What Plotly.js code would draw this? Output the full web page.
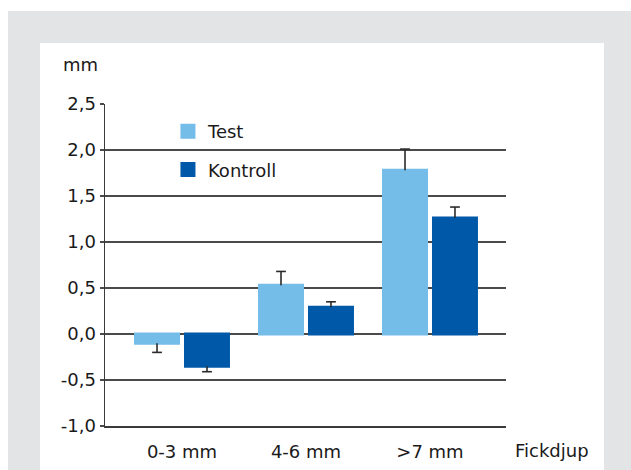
<!DOCTYPE html>
<html><head><meta charset="utf-8">
<script src="https://cdn.plot.ly/plotly-3.0.1.min.js"></script>
<style>
html,body{margin:0;padding:0;background:#fff;width:631px;height:470px;overflow:hidden}
#outer{position:absolute;left:8px;top:11px;width:623px;height:459px;background:#e3e4e6}
#chart{position:absolute;left:40px;top:43px;width:564px;height:427px;background:#fff}
</style></head>
<body><div id="outer"></div><div id="chart"></div>
<script>
var categories = ['0-3 mm', '4-6 mm', '>7 mm'];
var seriesNames = ['Test', 'Kontroll'];
var testValues = [-0.10, 0.53, 1.78];
var testErrPlus = [0, 0.15, 0.23];
var testErrMinus = [0.10, 0, 0];
var kontrollValues = [-0.35, 0.29, 1.26];
var kontrollErrPlus = [0, 0.06, 0.12];
var kontrollErrMinus = [0.06, 0, 0];
var yTicks = [-1.0, -0.5, 0.0, 0.5, 1.0, 1.5, 2.0, 2.5];
var yTickText = yTicks.map(function(v){ return v.toFixed(1).replace('.', ','); });

var font = '"DejaVu Sans", sans-serif';
var textColor = '#1a1a1a';
var errColor = '#2b2b2b';
var errStyle = {type:'data', symmetric:false, color:errColor, thickness:1.6, width:0};

function capEnds(vals, plus, minus){
  return vals.map(function(v, i){ return v + plus[i] - minus[i]; });
}

var traces = [
  {type:'bar', name:seriesNames[0], x:categories, y:testValues, offsetgroup:'t', alignmentgroup:'g',
   marker:{color:'#74bde8', line:{color:'#74bde8', width:3}},
   legendgroup:'a', hoverinfo:'skip',
   error_y:Object.assign({array:testErrPlus, arrayminus:testErrMinus}, errStyle)},
  {type:'bar', name:seriesNames[1], x:categories, y:kontrollValues, offsetgroup:'k', alignmentgroup:'g',
   marker:{color:'#0059a8', line:{color:'#0059a8', width:3}},
   legendgroup:'b', hoverinfo:'skip',
   error_y:Object.assign({array:kontrollErrPlus, arrayminus:kontrollErrMinus}, errStyle)},
  {type:'scatter', mode:'markers', x:categories, y:capEnds(testValues, testErrPlus, testErrMinus),
   offsetgroup:'t', alignmentgroup:'g', showlegend:false, hoverinfo:'skip', cliponaxis:false,
   marker:{symbol:'line-ew', size:7, color:errColor, line:{color:errColor, width:1.6}}},
  {type:'scatter', mode:'markers', x:categories, y:capEnds(kontrollValues, kontrollErrPlus, kontrollErrMinus),
   offsetgroup:'k', alignmentgroup:'g', showlegend:false, hoverinfo:'skip', cliponaxis:false,
   marker:{symbol:'line-ew', size:7, color:errColor, line:{color:errColor, width:1.6}}}
];

var layout = {
  width:564, height:427,
  margin:{l:65, r:98, t:61, b:44},
  paper_bgcolor:'#ffffff', plot_bgcolor:'#ffffff',
  font:{family:font, size:18, color:textColor},
  barmode:'group', bargap:0.194, bargroupgap:0.14,
  scattermode:'group', scattergap:0.194,
  showlegend:true,
  legend:{x:0.157, y:0.972, xanchor:'left', yanchor:'top', bgcolor:'rgba(0,0,0,0)',
          font:{family:font, size:18, color:textColor}, traceorder:'grouped', tracegroupgap:12,
          itemclick:false},
  xaxis:{type:'category', range:[-0.621, 2.613], showgrid:false, zeroline:false,
         showline:true, linecolor:'#3a3a3a', linewidth:1.5,
         ticks:'outside', ticklen:9, tickcolor:'rgba(0,0,0,0)', fixedrange:true},
  yaxis:{range:[-1, 2.5], tickmode:'array', tickvals:yTicks, ticktext:yTickText, showgrid:true,
         gridcolor:'#4a4a4a', gridwidth:1.5, zeroline:true, zerolinecolor:'#4a4a4a', zerolinewidth:1.5,
         showline:true, linecolor:'#3a3a3a', linewidth:1.5,
         ticks:'outside', ticklen:4, tickwidth:1.5, tickcolor:'#4a4a4a', fixedrange:true},
  annotations:[
    {xref:'paper', yref:'paper', x:-0.012, y:1.124, xanchor:'right', yanchor:'middle',
     text:'mm', showarrow:false, font:{family:font, size:18, color:textColor}},
    {xref:'paper', yref:'paper', x:1.017, y:-0.076, xanchor:'left', yanchor:'middle',
     text:'Fickdjup', showarrow:false, font:{family:font, size:18, color:textColor}}
  ]
};

Plotly.newPlot('chart', traces, layout, {displayModeBar:false, staticPlot:true});
</script></body></html>
